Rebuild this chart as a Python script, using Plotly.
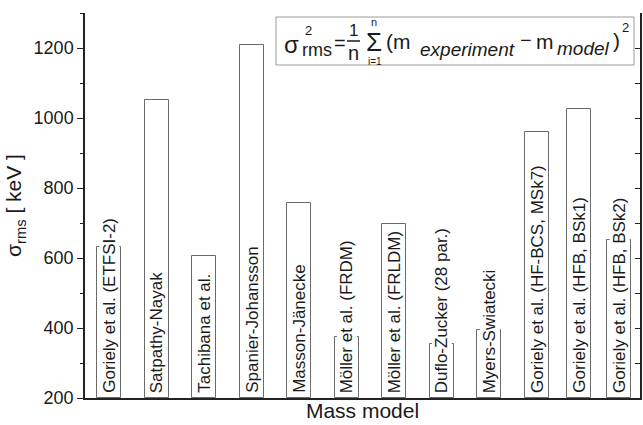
import plotly.graph_objects as go

# ---- data ----
models = [
    "Goriely et al. (ETFSI-2)",
    "Satpathy-Nayak",
    "Tachibana et al.",
    "Spanier-Johansson",
    "Masson-Jänecke",
    "Möller et al. (FRDM)",
    "Möller et al. (FRLDM)",
    "Duflo-Zucker (28 par.)",
    "Myers-Swiatecki",
    "Goriely et al. (HF-BCS, MSk7)",
    "Goriely et al. (HFB, BSk1)",
    "Goriely et al. (HFB, BSk2)",
]
x_slot = [1, 2, 3, 4, 5, 6, 7, 8, 9, 10, 10.88, 11.73]
sigma_rms = [631, 1051, 606, 1210, 758, 373, 696, 354, 394, 960, 1027, 651]
y_ticks = [200, 400, 600, 800, 1000, 1200]

FONT = "Liberation Sans, Arial, Helvetica, sans-serif"
BASE = 200

fig = go.Figure()
fig.add_trace(go.Bar(
    x=x_slot, y=[v - BASE for v in sigma_rms], base=BASE,
    width=0.505,
    marker=dict(color="white", line=dict(color="#6a6a6a", width=1)),
    hoverinfo="skip", showlegend=False,
))
# invisible trace for the right-hand axis
fig.add_trace(go.Scatter(x=[x_slot[0]], y=[BASE], yaxis="y2", mode="markers",
                         marker=dict(opacity=0), showlegend=False, hoverinfo="skip"))

# bar labels
for xv, name in zip(x_slot, models):
    fig.add_annotation(
        x=xv, y=BASE, xref="x", yref="y", text=name, textangle=-90,
        showarrow=False, xanchor="center", yanchor="bottom", yshift=4,
        bgcolor="white", borderpad=0,
        font=dict(family=FONT, size=17, color="#1a1a1a"),
    )

# equation box (pixel -> paper helpers)
L, R, T, B = 85, 640, 13, 398
def px(x):
    return (x - L) / (R - L)
def py(y):
    return (B - y) / (B - T)

fig.add_shape(type="rect", xref="paper", yref="paper",
              x0=px(276), x1=px(634), y0=py(65), y1=py(17),
              line=dict(color="#9a9a9a", width=1), fillcolor="white", layer="above")
fig.add_shape(type="line", xref="paper", yref="paper",
              x0=px(347), x1=px(360), y0=py(41), y1=py(41),
              line=dict(color="#1a1a1a", width=1.5), layer="above")

def eq(text, x, y, size, xanchor="center"):
    fig.add_annotation(x=px(x), y=py(y), xref="paper", yref="paper", text=text,
                       showarrow=False, xanchor=xanchor, yanchor="middle",
                       font=dict(family=FONT, size=size, color="#1a1a1a"))

eq("σ", 291, 44, 24)
eq("2", 308, 30, 13)
eq("rms", 317, 50, 18)
eq("=", 340, 43, 20)
eq("1", 353, 30, 17)
eq("n", 353, 53, 20)
eq("Σ", 374, 42, 26)
eq("n", 374, 22, 11)
eq("i=1", 375, 61, 10)
eq("(m", 384, 41, 21, "left")
eq("<i>experiment</i>", 418, 49, 19, "left")
eq("−", 526, 40, 20)
eq("m", 534, 41, 21, "left")
eq("<i>model</i>", 555, 48, 19, "left")
eq(")", 611, 40, 21, "left")
eq("2", 620, 27, 13, "left")

fig.update_layout(
    width=643, height=425,
    margin=dict(l=L, r=643 - R, t=T, b=425 - B),
    paper_bgcolor="white", plot_bgcolor="white",
    font=dict(family=FONT, color="#1a1a1a"),
    xaxis=dict(range=[0.49, 12.17], showticklabels=False, ticks="",
               showgrid=False, zeroline=False, showline=True,
               linecolor="#222", linewidth=1.5,
               title=dict(text="Mass model", font=dict(size=21), standoff=5)),
    yaxis=dict(range=[200, 1300], tickvals=y_ticks, ticks="outside", ticklen=6,
               tickwidth=1.2, tickcolor="#222",
               minor=dict(dtick=100, ticks="outside", ticklen=3, tickcolor="#222", showgrid=False),
               showgrid=False, zeroline=False, showline=True, linecolor="#222", linewidth=1.5,
               tickfont=dict(size=18, color="#1a1a1a"),
               title=dict(text="σ<sub>rms</sub> [ keV ]", font=dict(size=21), standoff=6)),
    yaxis2=dict(range=[200, 1300], overlaying="y", side="right", showticklabels=False,
                tickvals=list(range(300, 1300, 100)), ticks="inside", ticklen=5,
                tickcolor="#222", showgrid=False, zeroline=False,
                showline=True, linecolor="#222", linewidth=1.5),
    bargap=0,
)

fig.write_html("out.html")
